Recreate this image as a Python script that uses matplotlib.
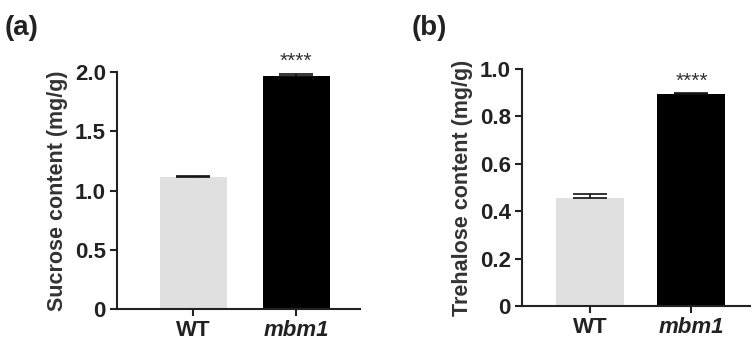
import matplotlib as mpl
from matplotlib import pyplot as plt

# data
groups = ['WT', 'mbm1']
sucrose = [1.115, 1.965]
sucrose_err = [0.012, 0.02]
trehalose = [0.457, 0.893]
trehalose_err = [0.014, 0.004]
bar_colors = ['#e0e0e0', '#000000']
stars = '****'

mpl.rcParams.update({'font.family': 'Liberation Sans', 'font.weight': 'bold',
                     'text.color': '#333333', 'axes.labelcolor': '#333333',
                     'xtick.color': '#222222', 'ytick.color': '#222222'})


def draw_panel(ax, values, errs, ylabel, ymax, yticks, yticklabels, xlim, width):
    x = range(len(values))
    ax.bar(x, values, width=width, color=bar_colors, zorder=2)
    ax.errorbar(x, values, yerr=[[0] * len(errs), errs], fmt='none',
                ecolor='#111111', elinewidth=1.2, capsize=12, capthick=1.2, zorder=3)
    ax.text(1, values[1] + errs[1] + ymax * 0.012, stars, ha='center', va='bottom',
            fontsize=15, fontweight='normal', color='#333333')
    ax.set_ylim(0, ymax)
    ax.set_xlim(*xlim)
    ax.set_yticks(yticks)
    ax.set_yticklabels(yticklabels, fontsize=16, fontweight='bold')
    ax.set_xticks(list(x))
    ax.set_xticklabels(groups, fontsize=16, fontweight='bold')
    ax.get_xticklabels()[1].set_style('italic')
    ax.set_ylabel(ylabel, fontsize=15.5, fontweight='bold', labelpad=5)
    for side in ['top', 'right']:
        ax.spines[side].set_visible(False)
    for side in ['left', 'bottom']:
        ax.spines[side].set_linewidth(1.5)
        ax.spines[side].set_color('#222222')
    ax.tick_params(width=1.5, length=5, pad=3)


fig = plt.figure(figsize=(7.56, 3.5), dpi=100)
ax1 = fig.add_axes([0.1548, 0.117, 0.3214, 0.677])
ax2 = fig.add_axes([0.6905, 0.1257, 0.3015, 0.677])

draw_panel(ax1, sucrose, sucrose_err, 'Sucrose content (mg/g)', 2.0,
           [0, 0.5, 1.0, 1.5, 2.0], ['0', '0.5', '1.0', '1.5', '2.0'],
           (-0.738, 1.621), 0.65)
draw_panel(ax2, trehalose, trehalose_err, 'Trehalose content (mg/g)', 1.0,
           [0, 0.2, 0.4, 0.6, 0.8, 1.0], ['0', '0.2', '0.4', '0.6', '0.8', '1.0'],
           (-0.67, 1.576), 0.67)

fig.text(0.006, 0.9, '(a)', fontsize=20, fontweight='bold', color='#222222')
fig.text(0.545, 0.9, '(b)', fontsize=20, fontweight='bold', color='#222222')

plt.savefig('out.png', dpi=100)
